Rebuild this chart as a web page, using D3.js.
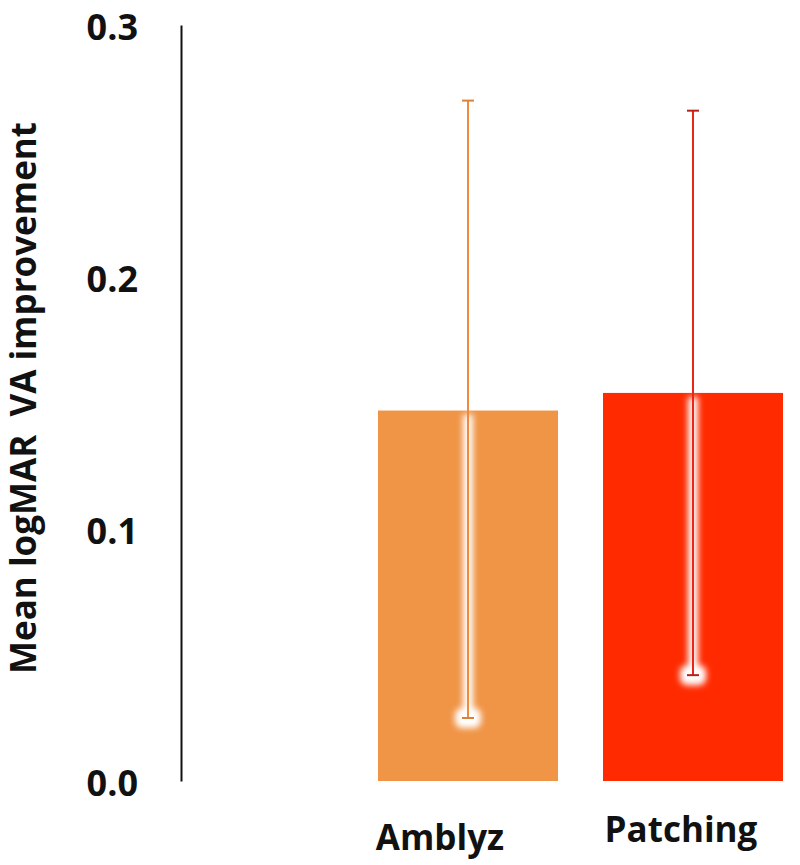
<!DOCTYPE html>
<html>
<head>
<meta charset="utf-8">
<script src="https://cdn.jsdelivr.net/npm/d3@7"></script>
<style>
  body { margin: 0; background: #fff; }
  text { font-family: "Open Sans", sans-serif; font-weight: bold; fill: #111; }
</style>
</head>
<body>
<div id="chart"></div>
<script>
// values
var categories = ["Amblyz", "Patching"];
var means = [0.147, 0.154];
var errHigh = [0.270, 0.266];
var errLow = [0.025, 0.042];
var yTicks = [0.0, 0.1, 0.2, 0.3];

var barColors = ["#f09446", "#ff2a00"];
var errColors = ["#f08a3c", "#e8261a"];
var labelShift = [{ dx: -28, y: 850 }, { dx: -12, y: 842 }];

var width = 800, height = 865;

var svg = d3.select("#chart").append("svg")
  .attr("width", width)
  .attr("height", height);

var defs = svg.append("defs");
defs.append("filter")
  .attr("id", "glow")
  .attr("x", "-50%").attr("y", "-10%")
  .attr("width", "200%").attr("height", "120%")
  .append("feGaussianBlur")
  .attr("stdDeviation", 3);

var y = d3.scaleLinear()
  .domain([0, 0.3])
  .range([781, 25]);

var x = d3.scaleBand()
  .domain(categories)
  .range([333, 828])
  .paddingInner(0.2)
  .paddingOuter(0.2);

// y axis
var yAxis = d3.axisLeft(y)
  .tickValues(yTicks)
  .tickFormat(d3.format(".1f"))
  .tickSize(0)
  .tickPadding(43);

var gy = svg.append("g")
  .attr("transform", "translate(181,0)")
  .call(yAxis);
gy.select(".domain").attr("stroke", "#111").attr("stroke-width", 2);
gy.selectAll("text")
  .attr("font-size", 36)
  .attr("font-family", "Open Sans, sans-serif")
  .attr("font-weight", "bold")
  .attr("fill", "#111")
  .attr("dy", "0.4em");

svg.append("text")
  .attr("transform", "translate(36," + 398 + ") rotate(-90)")
  .attr("text-anchor", "middle")
  .attr("font-size", 35)
  .style("white-space", "pre")
  .text("Mean logMAR  VA improvement");

var data = categories.map(function (c, i) {
  return { name: c, mean: means[i], hi: errHigh[i], lo: errLow[i], i: i };
});

// bars
svg.selectAll("rect.bar")
  .data(data)
  .enter()
  .append("rect")
  .attr("class", "bar")
  .attr("x", function (d) { return x(d.name); })
  .attr("y", function (d) { return y(d.mean); })
  .attr("width", x.bandwidth())
  .attr("height", function (d) { return y(0) - y(d.mean); })
  .style("fill", function (d) { return barColors[d.i]; });

// white halo of the error bar where it sits over the bar
var halo = svg.selectAll("g.halo")
  .data(data)
  .enter()
  .append("g")
  .attr("class", "halo")
  .attr("filter", "url(#glow)");

halo.append("line")
  .attr("x1", function (d) { return x(d.name) + x.bandwidth() / 2; })
  .attr("x2", function (d) { return x(d.name) + x.bandwidth() / 2; })
  .attr("y1", function (d) { return y(d.mean) + 4; })
  .attr("y2", function (d) { return y(d.lo); })
  .style("stroke", "#fff")
  .style("stroke-width", 10);

halo.append("rect")
  .attr("x", function (d) { return x(d.name) + x.bandwidth() / 2 - 13; })
  .attr("y", function (d) { return y(d.lo) - 10; })
  .attr("width", 26)
  .attr("height", 20)
  .attr("rx", 7)
  .style("fill", "#fff");

// error bars
var err = svg.selectAll("g.err")
  .data(data)
  .enter()
  .append("g")
  .attr("class", "err")
  .style("stroke", function (d) { return errColors[d.i]; })
  .style("stroke-width", 2);

err.append("line")
  .attr("x1", function (d) { return x(d.name) + x.bandwidth() / 2; })
  .attr("x2", function (d) { return x(d.name) + x.bandwidth() / 2; })
  .attr("y1", function (d) { return y(d.hi); })
  .attr("y2", function (d) { return y(d.lo); });

err.selectAll("line.cap")
  .data(function (d) { return [d.hi, d.lo].map(function (v) { return { v: v, d: d }; }); })
  .enter()
  .append("line")
  .attr("class", "cap")
  .attr("x1", function (c) { return x(c.d.name) + x.bandwidth() / 2 - 6; })
  .attr("x2", function (c) { return x(c.d.name) + x.bandwidth() / 2 + 6; })
  .attr("y1", function (c) { return y(c.v); })
  .attr("y2", function (c) { return y(c.v); })
  .style("stroke", function (c) { return c.d.i === 1 ? "#b8201a" : "#d9823a"; });

// category labels
svg.selectAll("text.cat")
  .data(data)
  .enter()
  .append("text")
  .attr("class", "cat")
  .attr("x", function (d) { return x(d.name) + x.bandwidth() / 2 + labelShift[d.i].dx; })
  .attr("y", function (d) { return labelShift[d.i].y; })
  .attr("text-anchor", "middle")
  .attr("font-size", 35)
  .text(function (d) { return d.name; });
</script>
</body>
</html>
